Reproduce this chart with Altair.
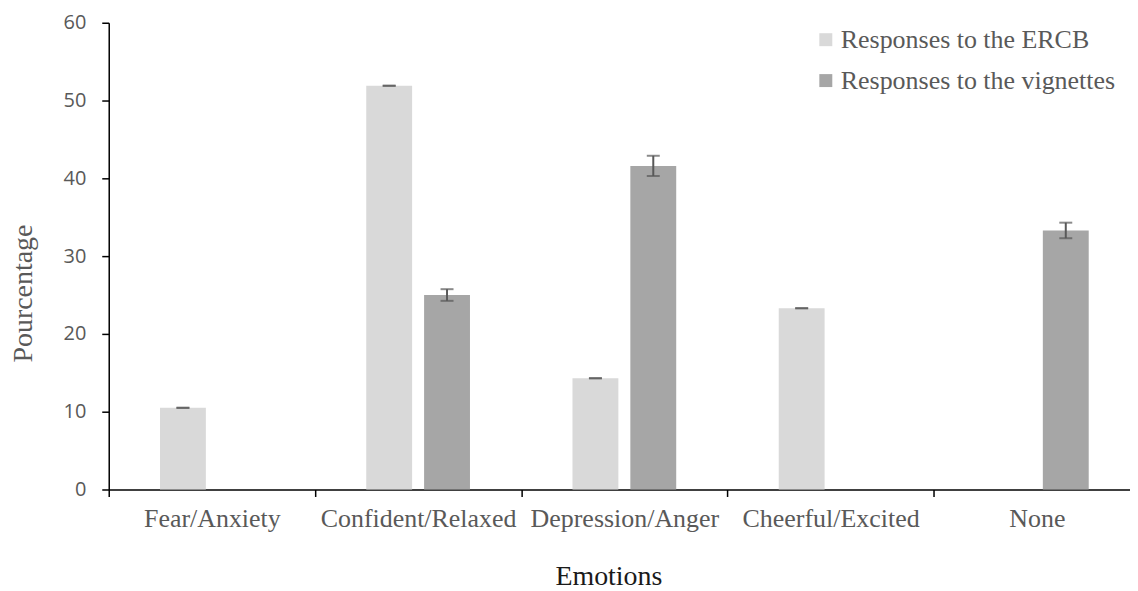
import altair as alt
import pandas as pd

categories = ["Fear/Anxiety", "Confident/Relaxed", "Depression/Anger", "Cheerful/Excited", "None"]
series = ["Responses to the ERCB", "Responses to the vignettes"]
ercb_values = [10.5, 51.9, 14.3, 23.3, 0.0]
ercb_errors = [0.0, 0.0, 0.0, 0.0, 0.0]
vignette_values = [0.0, 25.0, 41.6, 0.0, 33.3]
vignette_errors = [0.0, 0.75, 1.3, 0.0, 1.0]
y_ticks = [0, 10, 20, 30, 40, 50, 60]

rows = []
for i, c in enumerate(categories):
    rows.append({"emotion": c, "series": series[0], "value": ercb_values[i], "err": ercb_errors[i]})
    rows.append({"emotion": c, "series": series[1], "value": vignette_values[i], "err": vignette_errors[i]})
df = pd.DataFrame(rows)
df["lo"] = df["value"] - df["err"]
df["hi"] = df["value"] + df["err"]

x_axis = alt.Axis(
    title="Emotions", tickBand="extent", labelAngle=0, labelLimit=0,
    labelFont="Liberation Serif", labelFontSize=26, labelColor="#595959",
    labelPadding=9, tickSize=7, tickColor="#000000", tickWidth=1.5,
    domainColor="#000000", domainWidth=1.5,
    titleFont="Liberation Serif", titleFontSize=28, titleFontWeight="normal",
    titleColor="#1a1a1a", titleX=501, titleY=95, titleBaseline="alphabetic",
)
y_axis = alt.Axis(
    title="Pourcentage", values=y_ticks, grid=False,
    labelFont="Open Sans", labelFontSize=20, labelColor="#595959",
    labelPadding=16, tickSize=7, tickColor="#000000", tickWidth=1.5,
    domainColor="#000000", domainWidth=1.5,
    titleFont="Liberation Serif", titleFontSize=28, titleFontWeight="normal",
    titleColor="#595959", titleX=-85, titleY=271, titleBaseline="middle",
)

x_enc = alt.X("emotion:N", sort=categories,
              scale=alt.Scale(range=[0, 1034], paddingInner=0, paddingOuter=0),
              axis=x_axis)
xo_enc = alt.XOffset("series:N", sort=series,
                     scale=alt.Scale(paddingInner=0.207, paddingOuter=0.886))
y_scale = alt.Scale(domain=[0, 60])

base = alt.Chart(df)

bars = base.mark_bar().encode(
    x=x_enc,
    xOffset=xo_enc,
    y=alt.Y("value:Q", scale=y_scale, axis=y_axis),
    color=alt.Color("series:N", sort=series,
                    scale=alt.Scale(domain=series, range=["#d9d9d9", "#a6a6a6"]),
                    legend=alt.Legend(
                        title=None, orient="none", legendX=706, legendY=4,
                        symbolType="square", symbolSize=169, symbolStrokeWidth=0,
                        labelFont="Liberation Serif", labelFontSize=26, labelLimit=0,
                        labelColor="#595959", rowPadding=15, padding=0,
                        labelOffset=2,
                    )),
)

err = base.transform_filter("datum.value > 0")
rule = err.mark_rule(color="#595959", strokeWidth=2).encode(
    x=x_enc, xOffset=xo_enc,
    y=alt.Y("lo:Q", scale=y_scale, axis=y_axis), y2="hi:Q",
)
cap_lo = err.mark_tick(color="#595959", thickness=2, size=13).encode(
    x=x_enc, xOffset=xo_enc,
    y=alt.Y("lo:Q", scale=y_scale, axis=y_axis),
)
cap_hi = err.mark_tick(color="#595959", thickness=2, size=13).encode(
    x=x_enc, xOffset=xo_enc,
    y=alt.Y("hi:Q", scale=y_scale, axis=y_axis),
)

chart = alt.layer(bars, rule, cap_lo, cap_hi).properties(
    width=1024, height=468,
    autosize=alt.AutoSizeParams(type="none"),
    padding={"left": 101, "top": 14, "right": 0, "bottom": 100},
    background="white",
).configure_view(stroke=None)

chart.save("out.html", embed_options={"renderer": "svg", "actions": False})
